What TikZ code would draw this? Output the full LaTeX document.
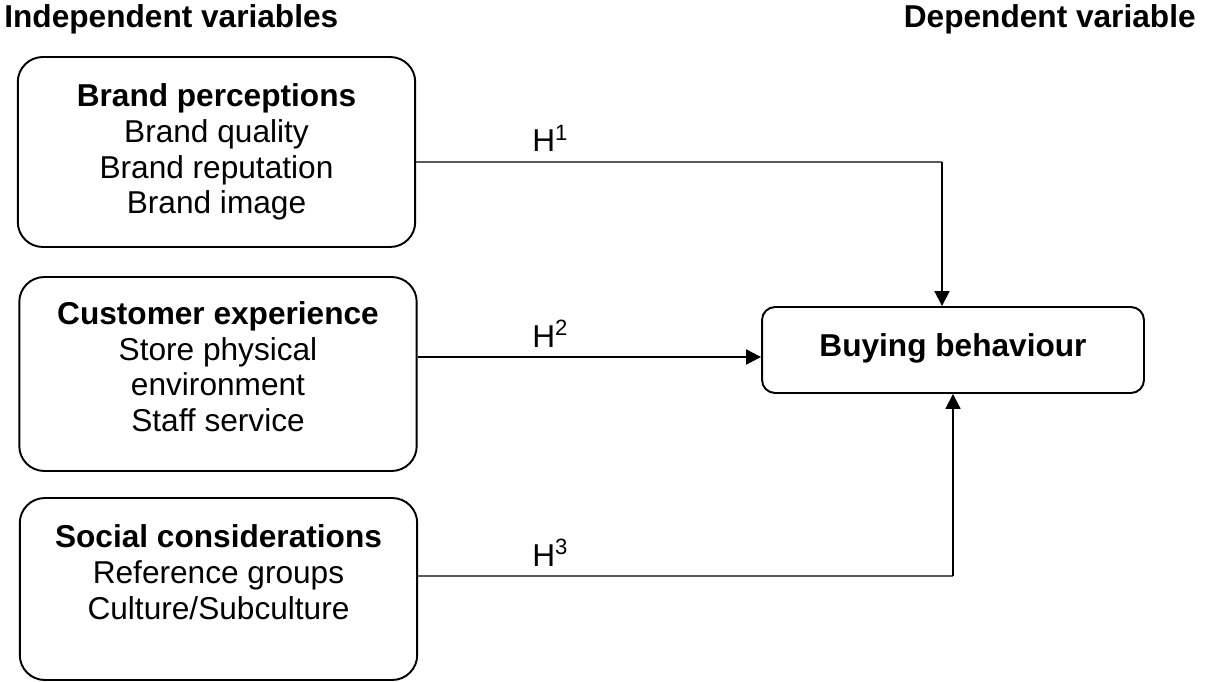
\documentclass[tikz,border=0pt]{standalone}
\usepackage{fontspec}
\setmainfont{Liberation Sans}
\usepackage{tikz}
\usetikzlibrary{positioning, arrows.meta}
% invisible strut that lifts the text inside a box
\newcommand{\padbelow}[1]{\rule[-#1]{0pt}{#1}}

\begin{document}
\begin{tikzpicture}[x=0.02cm, y=-0.02cm,
          varbox/.style={rectangle, rounded corners=0.5cm, draw=black,
                     line width=1.1pt, minimum width=7.95cm,
                     align=center, font=\fontsize{18}{20.4}\selectfont},
          outbox/.style={rectangle, rounded corners=0.26cm, draw=black,
                     line width=1.1pt, minimum width=7.64cm, minimum height=1.72cm,
                     align=center, font=\fontsize{18}{20.4}\selectfont\bfseries},
          hdr/.style={font=\fontsize{18}{20.4}\selectfont\bfseries, inner sep=0pt},
          hyp/.style={anchor=base west, inner sep=0pt,
                     font=\fontsize{18}{20.4}\selectfont},
          link/.style={draw=black!65, line width=0.6pt},
          arr/.style={-{Triangle[length=8.5pt, width=8.5pt]}, draw=black,
                     line width=1.1pt}
        ]
        \useasboundingbox (0,0) rectangle (1207,682);

        \node[hdr, anchor=base west] (indep) at (4,28) {Independent variables};
        \node[hdr, anchor=base east] (dep) at (1196,28) {Dependent variable};

        \node[varbox, minimum height=3.8cm] (brand) at (216.5,152)
              {\textbf{Brand perceptions}\\Brand quality\\Brand reputation\\Brand image};
        \node[varbox, minimum height=3.88cm] (cust) at (218,374)
              {\textbf{Customer experience}\\Store physical\\environment\\Staff service\padbelow{0.3cm}};
        \node[varbox, minimum height=3.64cm] (social) at (218.5,589)
              {\textbf{Social considerations}\\Reference groups\\Culture/Subculture\padbelow{0.68cm}};

        \node[outbox] (buy) at (953,350) {Buying behaviour\padbelow{0.2cm}};

        % hypotheses
        \coordinate (k1) at (942,162);
        \coordinate (k2) at (600,357);
        \coordinate (k3) at (953,576);

        \draw[link] (brand.east |- k1) -- (k1);
        \draw[arr] (k1) -- (k1 |- buy.north);
        \draw[arr] (cust.east |- k2) -- (buy.west |- k2);
        \draw[link] (social.east |- k3) -- (k3);
        \draw[arr] (k3) -- (k3 |- buy.south);

        \node[hyp] (h1) at (532,152) {H\textsuperscript{1}};
        \node[hyp] (h2) at (532,347) {H\textsuperscript{2}};
        \node[hyp] (h3) at (532,566) {H\textsuperscript{3}};
      \end{tikzpicture}
\end{document}
